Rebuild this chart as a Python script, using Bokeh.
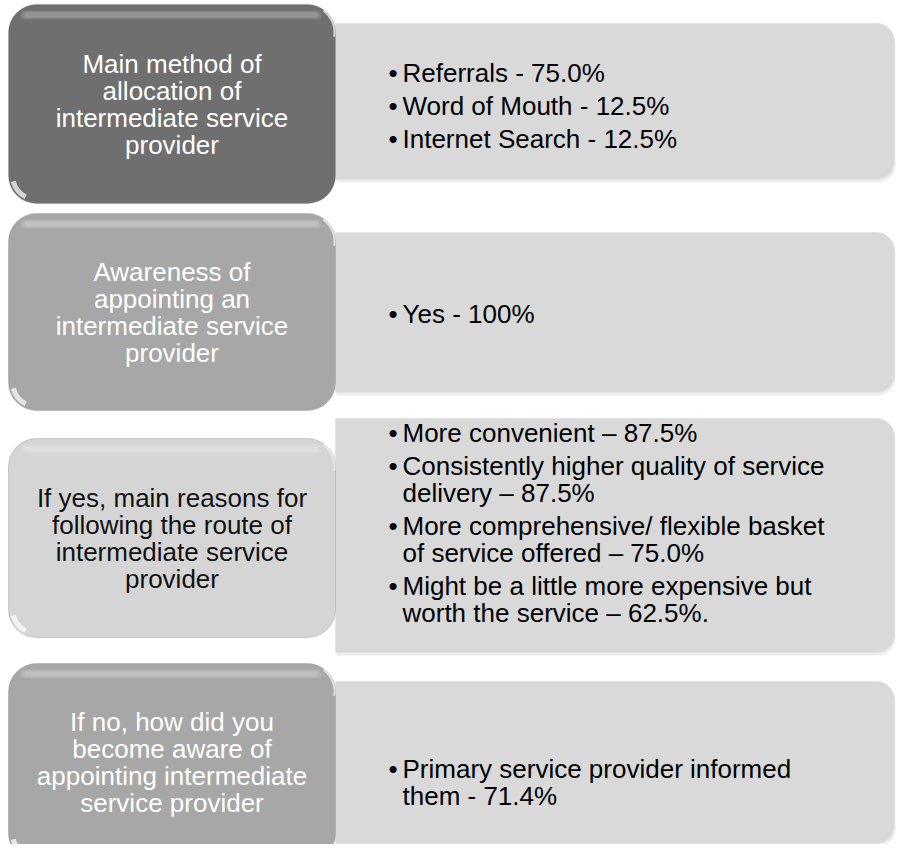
import math
from bokeh.plotting import figure
from bokeh.models import Range1d, ColumnDataSource
from bokeh.core.properties import value
from bokeh.embed import file_html
from bokeh.resources import INLINE

# ---------------- data ----------------
question_lines = [
    ["Main method of", "allocation of", "intermediate service", "provider"],
    ["Awareness of", "appointing an", "intermediate service", "provider"],
    ["If yes, main reasons for", "following the route of", "intermediate service", "provider"],
    ["If no, how did you", "become aware of", "appointing intermediate", "service provider"],
]
answer_items = [
    [["Referrals - 75.0%"], ["Word of Mouth - 12.5%"], ["Internet Search - 12.5%"]],
    [["Yes - 100%"]],
    [["More convenient \u2013 87.5%"],
     ["Consistently higher quality of service", "delivery \u2013 87.5%"],
     ["More comprehensive/ flexible basket", "of service offered \u2013 75.0%"],
     ["Might be a little more expensive but", "worth the service \u2013 62.5%."]],
    [["Primary service provider informed", "them - 71.4%"]],
]

# ---------------- layout / style (reference pixel units) ----------------
LEFT_X0, LEFT_X1 = 8, 335
RIGHT_X0, RIGHT_X1 = 335, 894
left_rows = [(4, 203), (213, 410), (438, 637), (663, 861)]
right_rows = [(23, 179), (232, 392), (418, 652), (681, 843)]
answer_first_line = [72, 313, 432, 768]
left_fill = ["#6f6f6f", "#a7a7a7", "#d5d5d5", "#a7a7a7"]
label_color = ["#ffffff", "#ffffff", "#111111", "#ffffff"]
RIGHT_FILL = "#d9d9d9"
FONT = "Liberation Sans"
FSIZE = "26px"
LINE_H = 27
PARA_H = 33
R_LEFT = 28
R_RIGHT = 18

p = figure(width=897, height=844, x_range=Range1d(0, 897), y_range=Range1d(-844, 0),
           output_backend="svg", toolbar_location=None, min_border=0,
           x_axis_type=None, y_axis_type=None)
p.grid.visible = False
p.outline_line_color = None
p.background_fill_color = "white"
p.border_fill_color = "white"

# right content boxes (behind)
rt = [-a for a, b in right_rows]
rb = [-b for a, b in right_rows]
p.quad(left=RIGHT_X0 + 1, right=RIGHT_X1 + 1, top=[t - 3 for t in rt], bottom=[b - 3 for b in rb],
       fill_color="#eeeeee", line_color=None, border_radius=(0, R_RIGHT, R_RIGHT, 0))
p.quad(left=RIGHT_X0, right=RIGHT_X1, top=rt, bottom=rb,
       fill_color=RIGHT_FILL, line_color="#e4e4e4", line_width=1,
       border_radius=(0, R_RIGHT, R_RIGHT, 0))

# left question boxes
lt = [-a for a, b in left_rows]
lb = [-b for a, b in left_rows]
p.quad(left=LEFT_X0, right=LEFT_X1, top=lt, bottom=lb, fill_color=left_fill,
       line_color="#8a8a8a", line_alpha=0.35, line_width=1, border_radius=R_LEFT)
# soft glossy top band
for k, a in enumerate([0.10, 0.10, 0.10]):
    p.quad(left=LEFT_X0 + 12 + 2 * k, right=LEFT_X1 - 14 - 2 * k,
           top=[t - 6 - k for t in lt], bottom=[t - 15 + k for t in lt],
           fill_color="white", fill_alpha=a, line_color=None, border_radius=4)
# bottom-left glint
p.arc(x=[LEFT_X0 + R_LEFT] * 4, y=[b + R_LEFT for b in lb], radius=R_LEFT - 4,
      start_angle=math.pi * 1.08, end_angle=math.pi * 1.35,
      line_color="white", line_width=5, line_alpha=0.7)
# right edge highlight near top-right
p.arc(x=[LEFT_X1 - R_LEFT] * 4, y=[t - R_LEFT for t in lt], radius=R_LEFT - 1,
      start_angle=-math.pi * 0.05, end_angle=math.pi * 0.3,
      line_color="#e8eef4", line_width=2, line_alpha=0.8)

# question labels (centered)
qx, qy, qt, qc = [], [], [], []
for i, lines in enumerate(question_lines):
    cy = (left_rows[i][0] + left_rows[i][1]) / 2
    n = len(lines)
    for k, s in enumerate(lines):
        qx.append((LEFT_X0 + LEFT_X1) / 2)
        qy.append(-(cy + (k - (n - 1) / 2) * LINE_H))
        qt.append(s)
        qc.append(label_color[i])
p.text(x="x", y="y", text="t", text_color="c",
       source=ColumnDataSource(dict(x=qx, y=qy, t=qt, c=qc)),
       text_font=value(FONT), text_font_size=FSIZE, text_align="center", text_baseline="middle")

# answers (bulleted)
bx, by, tx, ty, tt = [], [], [], [], []
for i, items in enumerate(answer_items):
    y = answer_first_line[i]
    for item in items:
        bx.append(RIGHT_X0 + 53)
        by.append(-y)
        for k, s in enumerate(item):
            tx.append(RIGHT_X0 + 67)
            ty.append(-(y + k * LINE_H))
            tt.append(s)
        y += (len(item) - 1) * LINE_H + PARA_H
p.text(x="x", y="y", text="t", source=ColumnDataSource(dict(x=bx, y=by, t=["\u2022"] * len(bx))),
       text_color="black", text_font=value(FONT), text_font_size=FSIZE,
       text_align="left", text_baseline="middle")
p.text(x="x", y="y", text="t", source=ColumnDataSource(dict(x=tx, y=ty, t=tt)),
       text_color="black", text_font=value(FONT), text_font_size=FSIZE,
       text_align="left", text_baseline="middle")

open("out.html", "w").write(file_html(p, INLINE))
